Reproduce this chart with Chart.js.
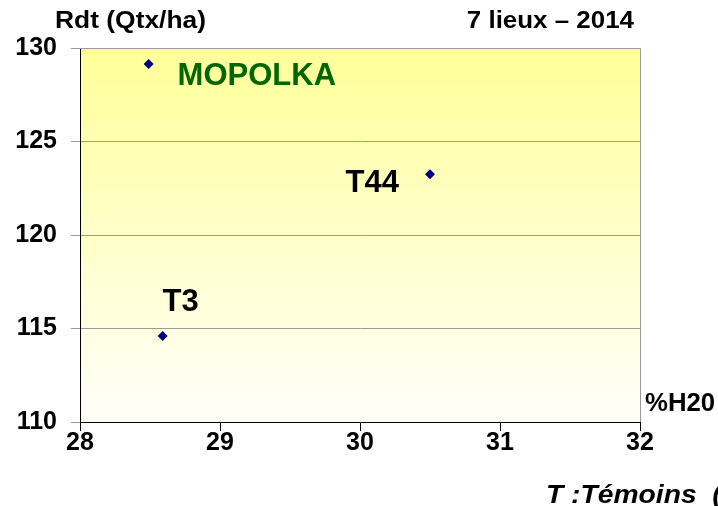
<!DOCTYPE html>
<html>
<head>
    <title>Rdt vs %H2O</title>
    <script src="https://cdn.jsdelivr.net/npm/chart.js"></script>
    <style>
        body { margin: 0; background: #fff; }
        #wrap { width: 718px; height: 506px; }
    </style>
</head>
<body>
    <div id="wrap"><canvas id="chart"></canvas></div>
    <script>
        // data
        var varieties = ['MOPOLKA', 'T44', 'T3'];
        var humidity = [28.49, 30.5, 28.59];
        var yields = [129.15, 123.25, 114.6];
        var xTicks = [28, 29, 30, 31, 32];
        var yTicks = [110, 115, 120, 125, 130];

        // label look (pixel offsets from the point)
        var labelStyle = {
            'MOPOLKA': { dx: 29, dy: 13, align: 'left', color: '#006600' },
            'T44': { dx: -31, dy: 9, align: 'right', color: '#000' },
            'T3': { dx: 0, dy: -34, align: 'left', color: '#000' }
        };

        var points = varieties.map(function (v, i) {
            return { x: humidity[i], y: yields[i] };
        });

        var font = '"Liberation Sans", Arial, sans-serif';

        // text drawn a little wider than tall, like the source picture
        function wideText(ctx, txt, x, y, align, sx) {
            ctx.save();
            ctx.translate(x, y);
            ctx.scale(sx, 1);
            ctx.textAlign = align;
            ctx.fillText(txt, 0, 0);
            ctx.restore();
        }

        var decor = {
            id: 'decor',
            beforeDraw: function (chart) {
                var ctx = chart.ctx, a = chart.chartArea;
                var g = ctx.createLinearGradient(0, a.top, 0, a.bottom);
                g.addColorStop(0, '#ffff99');
                g.addColorStop(1, '#fffffa');
                ctx.save();
                ctx.fillStyle = g;
                ctx.fillRect(a.left, a.top, a.right - a.left, a.bottom - a.top);
                ctx.restore();
            },
            afterDraw: function (chart) {
                var ctx = chart.ctx, a = chart.chartArea;
                var xs = chart.scales.x, ys = chart.scales.y;
                ctx.save();
                // top and right frame
                ctx.strokeStyle = '#9a9a9a';
                ctx.lineWidth = 1;
                ctx.beginPath();
                ctx.moveTo(a.left, a.top + 0.5);
                ctx.lineTo(a.right + 0.5, a.top + 0.5);
                ctx.lineTo(a.right + 0.5, a.bottom);
                ctx.stroke();

                // point labels
                ctx.font = 'bold 31px ' + font;
                ctx.textBaseline = 'middle';
                varieties.forEach(function (v, i) {
                    var s = labelStyle[v];
                    ctx.fillStyle = s.color;
                    ctx.textAlign = s.align;
                    ctx.fillText(v, xs.getPixelForValue(humidity[i]) + s.dx, ys.getPixelForValue(yields[i]) + s.dy);
                });

                // titles
                ctx.fillStyle = '#000';
                ctx.font = 'bold 24px ' + font;
                wideText(ctx, 'Rdt (Qtx/ha)', 55, 21, 'left', 1.1);
                wideText(ctx, '7 lieux \u2013 2014', 634, 21, 'right', 1.08);
                ctx.font = 'bold 25px ' + font;
                wideText(ctx, '%H20', 645, 404, 'left', 1.03);
                ctx.font = 'italic bold 25px ' + font;
                wideText(ctx, 'T :T\u00e9moins  (non inscrits)', 546, 496, 'left', 1.13);
                ctx.restore();
            }
        };

        new Chart(document.getElementById('chart'), {
            type: 'scatter',
            data: {
                datasets: [{
                    data: points,
                    pointStyle: 'rectRot',
                    pointRadius: 5,
                    pointHoverRadius: 5,
                    backgroundColor: '#000080',
                    borderColor: '#000080',
                    borderWidth: 0
                }]
            },
            plugins: [decor],
            options: {
                responsive: true,
                maintainAspectRatio: false,
                animation: false,
                layout: { padding: { left: 0, right: 78, top: 48, bottom: 0 } },
                plugins: { legend: { display: false }, tooltip: { enabled: false } },
                scales: {
                    x: {
                        type: 'linear',
                        min: xTicks[0],
                        max: xTicks[xTicks.length - 1],
                        afterBuildTicks: function (s) { s.ticks = xTicks.map(function (v) { return { value: v }; }); },
                        afterFit: function (s) { s.height = 84; },
                        grid: { drawOnChartArea: false, drawTicks: true, tickLength: 9, color: '#000' },
                        border: { color: '#000', width: 1 },
                        ticks: {
                            color: '#000',
                            padding: -3,
                            font: { family: font, size: 25, weight: 'bold' }
                        }
                    },
                    y: {
                        type: 'linear',
                        min: yTicks[0],
                        max: yTicks[yTicks.length - 1],
                        afterBuildTicks: function (s) { s.ticks = yTicks.map(function (v) { return { value: v }; }); },
                        afterFit: function (s) { s.width = 80; },
                        grid: { drawOnChartArea: true, drawTicks: true, tickLength: 9, color: '#9a9a9a' },
                        border: { color: '#000', width: 1 },
                        ticks: {
                            color: '#000',
                            padding: 14,
                            font: { family: font, size: 25, weight: 'bold' }
                        }
                    }
                }
            }
        });
    </script>
</body>
</html>
